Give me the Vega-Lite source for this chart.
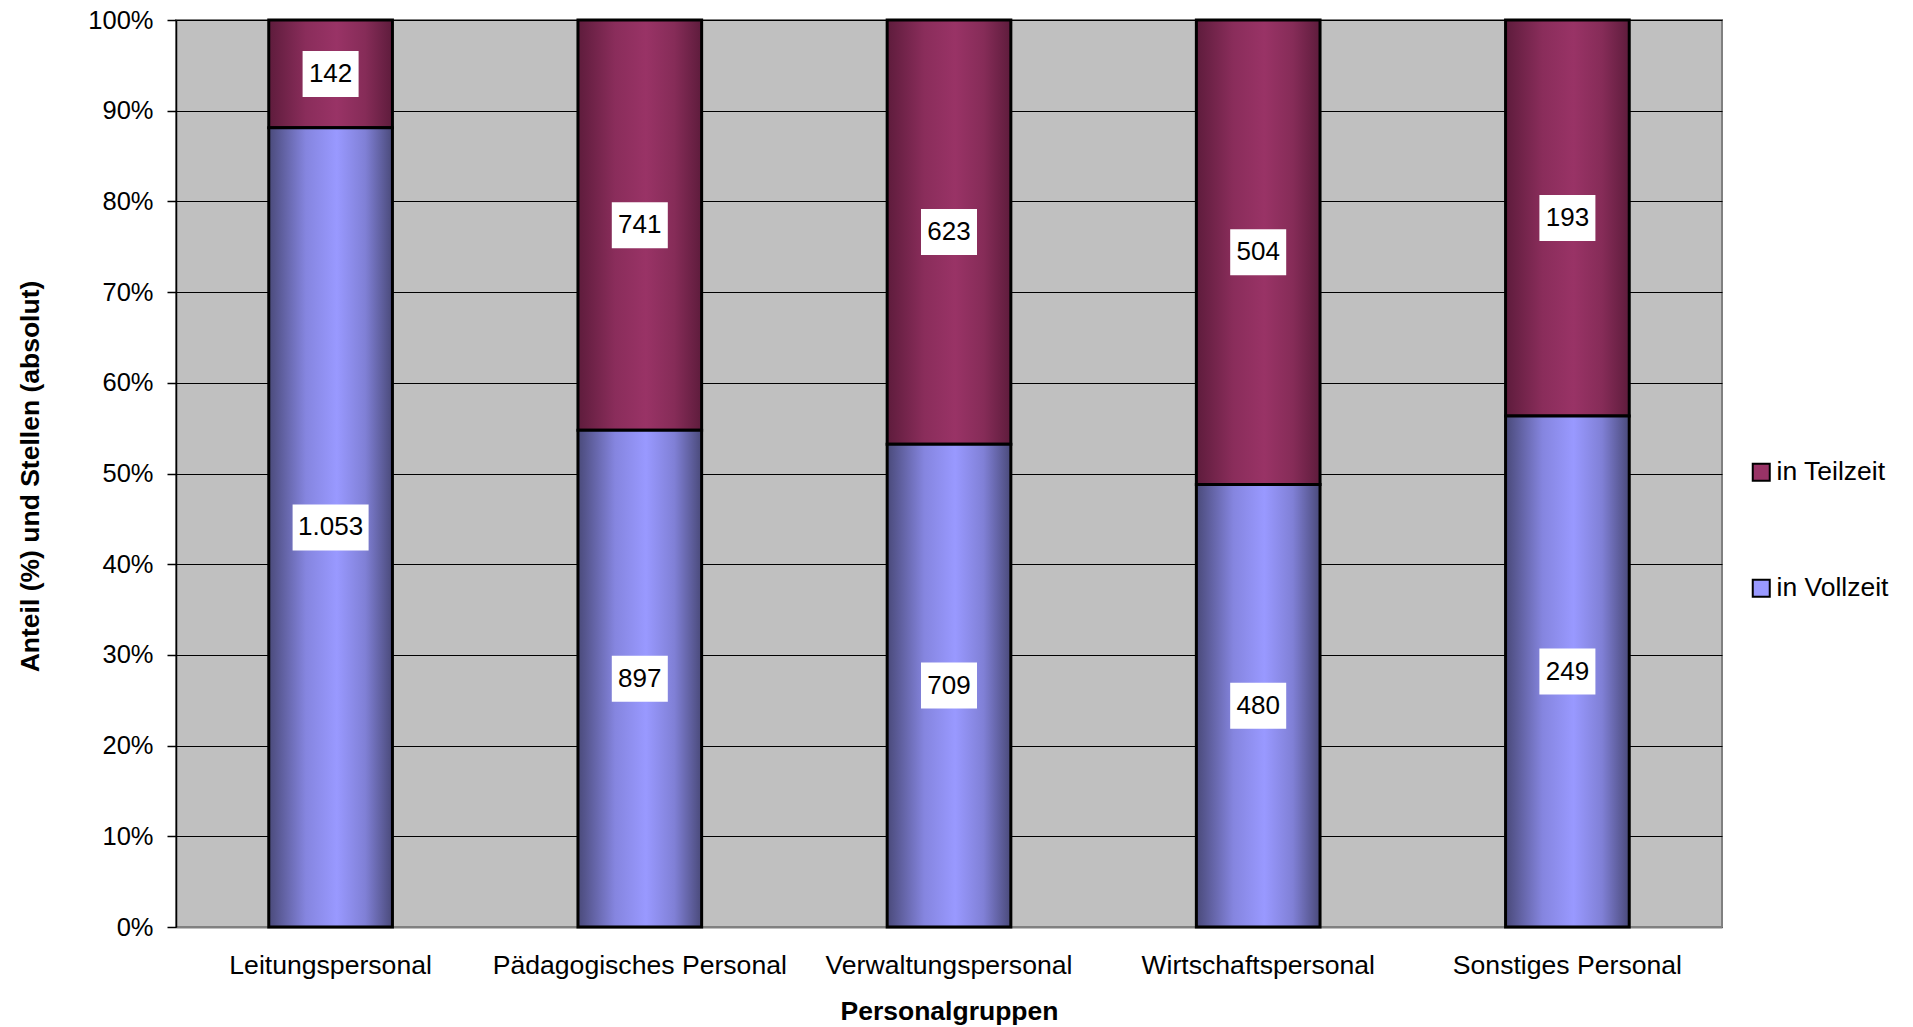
{
  "$schema": "https://vega.github.io/schema/vega-lite/v6.json",
  "width": 1546,
  "height": 907,
  "autosize": "none",
  "padding": {"left": 176, "top": 20, "right": 191, "bottom": 100},
  "background": "white",
  "config": {
    "font": "Liberation Sans",
    "view": {"fill": "#c0c0c0", "stroke": "#808080", "strokeWidth": 2},
    "axis": {"labelFont": "Liberation Sans", "titleFont": "Liberation Sans", "labelColor": "black", "titleColor": "black"},
    "legend": {"labelFont": "Liberation Sans"}
  },
  "data": {
    "values": [
      {"gruppe": "Leitungspersonal", "art": "in Vollzeit", "stellen": 1053, "label": "1.053"},
      {"gruppe": "Leitungspersonal", "art": "in Teilzeit", "stellen": 142, "label": "142"},
      {"gruppe": "Pädagogisches Personal", "art": "in Vollzeit", "stellen": 897, "label": "897"},
      {"gruppe": "Pädagogisches Personal", "art": "in Teilzeit", "stellen": 741, "label": "741"},
      {"gruppe": "Verwaltungspersonal", "art": "in Vollzeit", "stellen": 709, "label": "709"},
      {"gruppe": "Verwaltungspersonal", "art": "in Teilzeit", "stellen": 623, "label": "623"},
      {"gruppe": "Wirtschaftspersonal", "art": "in Vollzeit", "stellen": 480, "label": "480"},
      {"gruppe": "Wirtschaftspersonal", "art": "in Teilzeit", "stellen": 504, "label": "504"},
      {"gruppe": "Sonstiges Personal", "art": "in Vollzeit", "stellen": 249, "label": "249"},
      {"gruppe": "Sonstiges Personal", "art": "in Teilzeit", "stellen": 193, "label": "193"}
    ]
  },
  "transform": [
    {"stack": "stellen", "groupby": ["gruppe"], "sort": [{"field": "art", "order": "descending"}], "offset": "normalize", "as": ["y0", "y1"]}
  ],
  "encoding": {
    "x": {
      "field": "gruppe",
      "type": "nominal",
      "sort": null,
      "scale": {"paddingInner": 0.6, "paddingOuter": 0.3},
      "axis": {
        "title": "Personalgruppen",
        "titleFontSize": 26.5,
        "titleFontWeight": "bold",
        "titlePadding": 20,
        "labelFontSize": 26.6,
        "labelAngle": 0,
        "labelPadding": 25,
        "labelLimit": 0,
        "ticks": false,
        "tickSize": 0,
        "domainColor": "#808080",
        "domainWidth": 2
      }
    }
  },
  "layer": [
    {
      "mark": {"type": "bar"},
      "encoding": {
        "y": {
          "field": "y0",
          "type": "quantitative",
          "scale": {"domain": [0, 1], "nice": false},
          "axis": {
            "title": "Anteil (%) und Stellen (absolut)",
            "titleFontSize": 26.5,
            "titleFontWeight": "bold",
            "titleX": -146,
            "titleY": 456,
            "titleBaseline": "middle",
            "titleAlign": "center",
            "titleAngle": -90,
            "labelFontSize": 25.5,
            "labelPadding": 14,
            "tickSize": 9,
            "tickColor": "black",
            "tickWidth": 1.5,
            "domainColor": "black",
            "domainWidth": 1.5,
            "values": [0, 0.1, 0.2, 0.3, 0.4, 0.5, 0.6, 0.7, 0.8, 0.9, 1],
            "format": ".0%",
            "grid": true,
            "gridColor": "black",
            "gridWidth": 1.2,
            "gridOpacity": 1
          }
        },
        "y2": {"field": "y1"},
        "color": {
          "field": "art",
          "type": "nominal",
          "scale": {"domain": ["in Teilzeit", "in Vollzeit"], "range": ["#993366", "#9999ff"]},
          "legend": {
            "title": null,
            "orient": "none",
            "legendX": 1572,
            "legendY": 439,
            "symbolType": "square",
            "symbolSize": 289,
            "symbolStrokeColor": "black",
            "symbolStrokeWidth": 2,
            "symbolOpacity": 1,
            "labelFontSize": 26.5,
            "labelColor": "black",
            "labelOffset": 2,
            "rowPadding": 89
          }
        }
      }
    },
    {
      "transform": [{"filter": "datum.art === 'in Teilzeit'"}],
      "mark": {
        "type": "bar", "stroke": "black", "strokeWidth": 3,
        "color": {"gradient": "linear", "x1": 0, "y1": 0, "x2": 1, "y2": 0, "stops": [
          {"offset": 0, "color": "#5e1c3c"},
          {"offset": 0.3, "color": "#8a2d5b"},
          {"offset": 0.55, "color": "#993366"},
          {"offset": 0.78, "color": "#862c58"},
          {"offset": 1, "color": "#5e1c3c"}
        ]}
      },
      "encoding": {
        "y": {"field": "y0", "type": "quantitative", "axis": {"title": "Anteil (%) und Stellen (absolut)"}},
        "y2": {"field": "y1"}
      }
    },
    {
      "transform": [{"filter": "datum.art === 'in Vollzeit'"}],
      "mark": {
        "type": "bar", "stroke": "black", "strokeWidth": 3,
        "color": {"gradient": "linear", "x1": 0, "y1": 0, "x2": 1, "y2": 0, "stops": [
          {"offset": 0, "color": "#4a4a7a"},
          {"offset": 0.3, "color": "#8585df"},
          {"offset": 0.55, "color": "#9999ff"},
          {"offset": 0.78, "color": "#8080d6"},
          {"offset": 1, "color": "#4a4a7a"}
        ]}
      },
      "encoding": {
        "y": {"field": "y0", "type": "quantitative", "axis": {"title": "Anteil (%) und Stellen (absolut)"}},
        "y2": {"field": "y1"}
      }
    },
    {
      "mark": {"type": "point", "filled": true, "fill": "white", "opacity": 1, "strokeWidth": 0},
      "encoding": {
        "y": {"field": "stellen", "type": "quantitative", "stack": "normalize", "bandPosition": 0.5, "axis": {"title": "Anteil (%) und Stellen (absolut)"}},
        "order": {"field": "art", "sort": "descending"},
        "shape": {
          "condition": {"test": "datum.label === '1.053'", "value": "M-1,-0.605H1V0.605H-1Z"},
          "value": "M-1,-0.821H1V0.821H-1Z"
        },
        "size": {
          "condition": {"test": "datum.label === '1.053'", "value": 5776},
          "value": 3136
        }
      }
    },
    {
      "mark": {"type": "text", "fontSize": 26, "color": "black", "baseline": "middle", "align": "center"},
      "encoding": {
        "y": {"field": "stellen", "type": "quantitative", "stack": "normalize", "bandPosition": 0.5, "axis": {"title": "Anteil (%) und Stellen (absolut)"}},
        "order": {"field": "art", "sort": "descending"},
        "text": {"field": "label"}
      }
    }
  ]
}
